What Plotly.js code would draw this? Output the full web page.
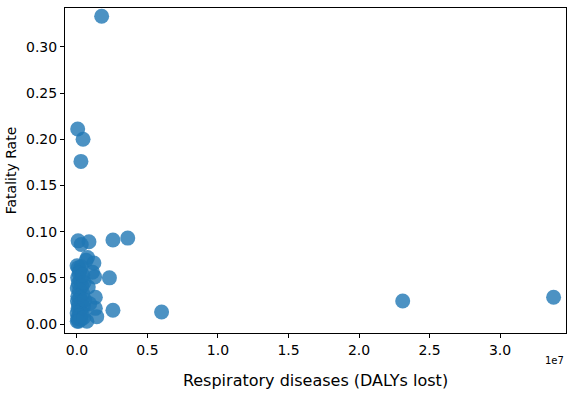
<!DOCTYPE html>
<html>
<head>
<meta charset="utf-8">
<script src="https://cdn.plot.ly/plotly-3.0.1.min.js"></script>
<style>html,body{margin:0;padding:0;background:#fff;}#chart{width:573px;height:396px;}</style>
</head>
<body>
<div id="chart"></div>
<script>
// Respiratory diseases (DALYs lost)
const dalys = [
  1750000, 50000, 430000, 280000, 80000, 850000, 300000, 2550000, 3600000,
  750000, 650000, 1200000, 1100000, 1250000, 2300000, 2550000, 6000000,
  23100000, 33800000, 1300000, 1400000, 700000, 1300000, 800000, 900000,
  5000, 100000, 200000, 300000, 150000, 50000, 250000, 100000, 350000, 20000,
  180000, 400000, 60000, 220000, 30000, 320000, 120000, 450000, 80000, 260000,
  10000, 380000, 150000, 50000, 280000, 20000, 120000, 480000, 550000, 500000, 400000
];
// Fatality rate
const fatality = [
  0.333, 0.211, 0.200, 0.176, 0.090, 0.089, 0.086, 0.091, 0.093,
  0.072, 0.069, 0.066, 0.056, 0.051, 0.050, 0.015, 0.013,
  0.025, 0.029, 0.029, 0.008, 0.003, 0.017, 0.040, 0.022,
  0.063, 0.061, 0.058, 0.062, 0.055, 0.050, 0.047, 0.044, 0.041, 0.039,
  0.036, 0.033, 0.030, 0.028, 0.025, 0.024, 0.021, 0.019, 0.017, 0.014,
  0.012, 0.011, 0.009, 0.006, 0.005, 0.003, 0.003, 0.007, 0.026, 0.045, 0.053
];
const xTickVals = [0, 5e6, 1e7, 1.5e7, 2e7, 2.5e7, 3e7];
const xTickText = ["0.0", "0.5", "1.0", "1.5", "2.0", "2.5", "3.0"];
const yTickVals = [0, 0.05, 0.10, 0.15, 0.20, 0.25, 0.30];

const font = "DejaVu Sans, sans-serif";
Plotly.newPlot("chart", [{
  type: "scatter",
  mode: "markers",
  x: dalys,
  y: fatality,
  marker: {size: 15, color: "#1f77b4", opacity: 0.8, line: {width: 0}}
}], {
  width: 573, height: 396,
  margin: {l: 65, r: 7, t: 8, b: 63},
  paper_bgcolor: "#fff", plot_bgcolor: "#fff",
  showlegend: false,
  font: {family: font, size: 14, color: "#000"},
  xaxis: {
    range: [-850000, 34680000],
    tickvals: xTickVals, ticktext: xTickText,
    ticks: "outside", ticklen: 4, tickcolor: "#000",
    showgrid: false, zeroline: false,
    showline: true, linecolor: "#000", linewidth: 1, mirror: true,
    tickfont: {family: font, size: 14},
    title: {text: "Respiratory diseases (DALYs lost)", font: {family: font, size: 16}, standoff: 18}
  },
  yaxis: {
    range: [-0.0097, 0.342],
    tickvals: yTickVals, tickformat: ".2f",
    ticks: "outside", ticklen: 4, tickcolor: "#000",
    showgrid: false, zeroline: false,
    showline: true, linecolor: "#000", linewidth: 1, mirror: true,
    tickfont: {family: font, size: 14},
    title: {text: "Fatality Rate", font: {family: font, size: 14}, standoff: 6}
  },
  annotations: [{
    text: "1e7", xref: "paper", yref: "paper", x: 1, y: 0,
    xanchor: "right", yanchor: "top", yshift: -20, showarrow: false,
    font: {family: font, size: 10, color: "#000"}
  }]
}, {displayModeBar: false, staticPlot: true});
</script>
</body>
</html>
